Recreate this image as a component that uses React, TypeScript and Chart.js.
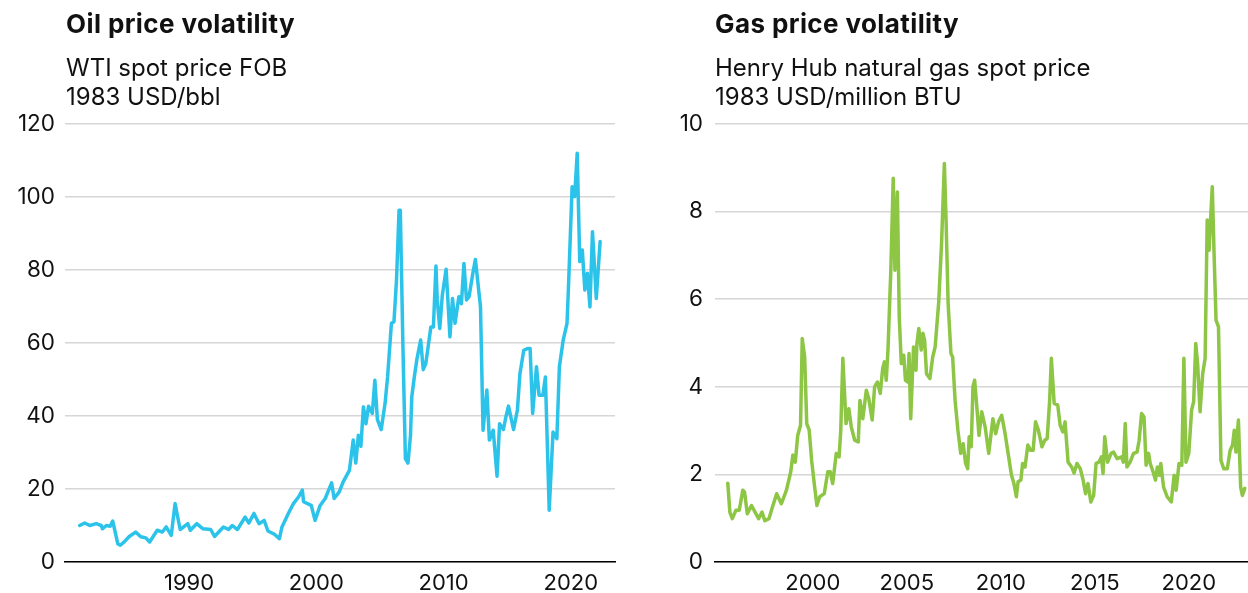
import React, { useEffect, useRef } from "react";
import { Chart, registerables } from "chart.js";

Chart.register(...registerables);

// ---- Oil: WTI spot price FOB, 1983 USD/bbl ----
const oilYears = [
  1981.4, 1981.8, 1982.2, 1982.7, 1983.1, 1983.2, 1983.5, 1983.8, 1984.0, 1984.4,
  1984.6, 1984.9, 1985.3, 1985.8, 1986.2, 1986.6, 1986.9, 1987.5, 1987.9, 1988.2,
  1988.6, 1988.9, 1989.3, 1989.9, 1990.1, 1990.6, 1991.1, 1991.7, 1992.0, 1992.7,
  1993.1, 1993.4, 1993.8, 1994.4, 1994.7, 1995.1, 1995.5, 1995.9, 1996.2, 1996.7,
  1997.1, 1997.3, 1997.8, 1998.2, 1998.6, 1998.9, 1999.0, 1999.6, 1999.9, 2000.3,
  2000.7, 2001.2, 2001.4, 2001.8, 2002.1, 2002.6, 2002.9, 2003.1, 2003.3, 2003.5,
  2003.7, 2003.9, 2004.1, 2004.4, 2004.6, 2004.8, 2005.1, 2005.4, 2005.6, 2005.9,
  2006.1, 2006.3, 2006.5, 2006.6, 2006.8, 2007.0, 2007.2, 2007.4, 2007.5, 2007.7,
  2007.9, 2008.2, 2008.4, 2008.6, 2009.0, 2009.2, 2009.4, 2009.5, 2009.7, 2009.9,
  2010.2, 2010.5, 2010.7, 2010.9, 2011.2, 2011.4, 2011.6, 2011.8, 2012.0, 2012.3,
  2012.5, 2012.9, 2013.1, 2013.4, 2013.6, 2013.9, 2014.2, 2014.4, 2014.7, 2014.9,
  2015.1, 2015.5, 2015.8, 2016.0, 2016.3, 2016.6, 2016.8, 2017.0, 2017.3, 2017.5,
  2017.8, 2018.0, 2018.3, 2018.6, 2018.9, 2019.1, 2019.4, 2019.7, 2019.8, 2020.1,
  2020.3, 2020.5, 2020.7, 2020.9, 2021.1, 2021.3, 2021.5, 2021.7, 2022.0, 2022.3,
];
const oilValues = [
  10.0, 10.7, 10.0, 10.5, 10.0, 9.1, 10.0, 9.8, 11.2, 5.0,
  4.6, 5.5, 7.0, 8.2, 6.9, 6.6, 5.5, 8.7, 8.2, 9.6,
  7.3, 16.0, 8.9, 10.5, 8.7, 10.5, 9.1, 8.9, 7.0, 9.6,
  8.9, 10.0, 8.9, 12.3, 10.7, 13.3, 10.5, 11.4, 8.5, 7.6,
  6.4, 9.6, 13.3, 16.0, 17.8, 19.7, 16.5, 15.5, 11.4, 15.5,
  17.4, 21.7, 17.4, 19.2, 21.9, 25.1, 33.4, 27.1, 34.7, 31.7,
  42.5, 37.9, 42.7, 40.7, 49.8, 39.0, 36.3, 43.4, 50.7, 65.4,
  65.8, 77.2, 96.4, 96.4, 59.9, 28.3, 27.1, 34.7, 45.2, 50.7,
  55.5, 60.8, 52.7, 54.3, 64.4, 64.4, 81.1, 71.8, 64.0, 73.1,
  80.2, 61.7, 72.2, 65.4, 72.7, 70.8, 81.8, 71.8, 72.7, 79.1,
  82.9, 69.9, 36.1, 47.1, 33.4, 36.1, 23.5, 37.9, 36.3, 39.8,
  42.7, 36.3, 41.6, 51.6, 58.0, 58.5, 58.5, 40.7, 53.5, 45.7,
  45.7, 50.7, 14.2, 35.6, 33.8, 53.5, 60.8, 65.4, 74.0, 102.8,
  100.1, 112.0, 82.3, 85.5, 74.5, 79.1, 69.9, 90.5, 72.2, 87.8,
];
const oilXTicks = [1990, 2000, 2010, 2020];
const oilYTicks = [0, 20, 40, 60, 80, 100, 120];

// ---- Gas: Henry Hub natural gas spot price, 1983 USD/million BTU ----
const gasYears = [
  1995.48, 1995.59, 1995.72, 1995.91, 1996.09, 1996.28, 1996.37, 1996.52, 1996.74, 1996.93,
  1997.12, 1997.30, 1997.45, 1997.67, 1997.86, 1998.08, 1998.33, 1998.60, 1998.83, 1998.94,
  1999.07, 1999.20, 1999.35, 1999.44, 1999.57, 1999.68, 1999.81, 1999.94, 2000.09, 2000.22,
  2000.37, 2000.61, 2000.80, 2000.93, 2001.06, 2001.25, 2001.40, 2001.49, 2001.60, 2001.77,
  2001.92, 2002.05, 2002.23, 2002.42, 2002.51, 2002.66, 2002.85, 2002.98, 2003.16, 2003.29,
  2003.44, 2003.59, 2003.72, 2003.81, 2003.91, 2004.00, 2004.15, 2004.28, 2004.37, 2004.50,
  2004.60, 2004.71, 2004.84, 2004.93, 2005.06, 2005.12, 2005.21, 2005.36, 2005.49, 2005.54,
  2005.64, 2005.77, 2005.86, 2005.95, 2006.05, 2006.23, 2006.38, 2006.51, 2006.70, 2006.85,
  2007.00, 2007.09, 2007.20, 2007.35, 2007.44, 2007.57, 2007.72, 2007.87, 2008.00, 2008.13,
  2008.24, 2008.32, 2008.43, 2008.52, 2008.61, 2008.74, 2008.84, 2008.99, 2009.17, 2009.36,
  2009.58, 2009.73, 2009.88, 2010.05, 2010.23, 2010.42, 2010.57, 2010.70, 2010.83, 2010.92,
  2011.07, 2011.16, 2011.29, 2011.44, 2011.59, 2011.72, 2011.85, 2012.00, 2012.19, 2012.34,
  2012.47, 2012.60, 2012.69, 2012.84, 2013.03, 2013.16, 2013.30, 2013.42, 2013.58, 2013.77,
  2013.90, 2014.05, 2014.23, 2014.38, 2014.51, 2014.64, 2014.79, 2014.94, 2015.07, 2015.22,
  2015.35, 2015.44, 2015.53, 2015.68, 2015.87, 2016.00, 2016.19, 2016.43, 2016.52, 2016.62,
  2016.71, 2016.88, 2017.06, 2017.25, 2017.36, 2017.49, 2017.62, 2017.73, 2017.86, 2017.95,
  2018.10, 2018.23, 2018.33, 2018.44, 2018.51, 2018.66, 2018.85, 2019.07, 2019.22, 2019.33,
  2019.48, 2019.63, 2019.74, 2019.85, 2020.00, 2020.15, 2020.26, 2020.37, 2020.47, 2020.60,
  2020.74, 2020.87, 2020.98, 2021.08, 2021.15, 2021.25, 2021.34, 2021.45, 2021.58, 2021.71,
  2021.86, 2022.05, 2022.20, 2022.33, 2022.42, 2022.51, 2022.64, 2022.76, 2022.85, 2022.98,
];
const gasValues = [
  1.80, 1.14, 0.99, 1.18, 1.18, 1.64, 1.60, 1.10, 1.29, 1.14,
  0.99, 1.14, 0.94, 0.99, 1.26, 1.56, 1.33, 1.64, 2.06, 2.44,
  2.28, 2.89, 3.12, 5.10, 4.68, 3.16, 3.01, 2.32, 1.75, 1.29,
  1.49, 1.56, 2.06, 2.06, 1.79, 2.48, 2.40, 3.01, 4.65, 3.16,
  3.50, 3.08, 2.78, 2.74, 3.69, 3.27, 3.92, 3.73, 3.24, 4.00,
  4.11, 3.85, 4.42, 4.57, 4.15, 4.84, 6.63, 8.76, 6.66, 8.45,
  5.60, 4.53, 4.72, 4.15, 4.11, 4.76, 3.27, 4.91, 4.38, 4.99,
  5.33, 4.84, 5.22, 5.06, 4.30, 4.19, 4.68, 4.91, 5.94, 7.27,
  9.10, 7.81, 5.90, 4.76, 4.68, 3.69, 3.01, 2.48, 2.70, 2.25,
  2.13, 2.86, 2.63, 4.00, 4.15, 3.47, 2.89, 3.43, 3.08, 2.48,
  3.27, 2.93, 3.20, 3.35, 2.93, 2.40, 1.98, 1.79, 1.49, 1.83,
  1.87, 2.25, 2.17, 2.67, 2.55, 2.55, 3.20, 3.01, 2.63, 2.78,
  2.82, 3.69, 4.65, 3.62, 3.58, 3.12, 2.97, 3.20, 2.28, 2.17,
  2.03, 2.25, 2.13, 1.87, 1.56, 1.79, 1.37, 1.52, 2.25, 2.28,
  2.40, 2.02, 2.86, 2.28, 2.48, 2.51, 2.36, 2.40, 2.28, 3.16,
  2.17, 2.28, 2.48, 2.51, 2.78, 3.39, 3.31, 2.21, 2.48, 2.25,
  2.06, 1.87, 2.17, 1.98, 2.25, 1.71, 1.49, 1.37, 1.98, 1.64,
  2.25, 2.21, 4.65, 2.28, 2.48, 3.47, 3.66, 4.99, 4.53, 3.43,
  4.30, 4.65, 7.81, 7.12, 7.73, 8.57, 7.12, 5.52, 5.37, 2.32,
  2.13, 2.13, 2.55, 2.67, 3.01, 2.51, 3.24, 1.71, 1.52, 1.68,
];
const gasXTicks = [2000, 2005, 2010, 2015, 2020];
const gasYTicks = [0, 2, 4, 6, 8, 10];

const FONT = "Inter, 'Noto Sans', sans-serif";

type PanelProps = {
  left: number;
  years: number[];
  values: number[];
  color: string;
  xMin: number;
  xMax: number;
  xTicks: number[];
  yTicks: number[];
  yAxisWidth: number;
  yLabelPad: number;
  padRight: number;
  title: string;
  sub1: string;
  sub2: string;
  titleLeft: number;
};

function Panel(p: PanelProps) {
  const ref = useRef<HTMLCanvasElement | null>(null);
  useEffect(() => {
    if (!ref.current) return;
    const data = p.years.map((x, i) => ({ x, y: p.values[i] }));
    const chart = new Chart(ref.current, {
      type: "line",
      data: {
        datasets: [
          {
            data,
            borderColor: p.color,
            borderWidth: 3.5,
            pointRadius: 0,
            tension: 0,
            borderJoinStyle: "round",
            borderCapStyle: "round",
            fill: false,
          },
        ],
      },
      options: {
        animation: false,
        responsive: false,
        maintainAspectRatio: false,
        layout: { padding: { top: 124, bottom: 0, left: 0, right: p.padRight } },
        plugins: { legend: { display: false }, tooltip: { enabled: false } },
        scales: {
          x: {
            type: "linear",
            min: p.xMin,
            max: p.xMax,
            afterBuildTicks: (s: any) => {
              s.ticks = p.xTicks.map((v) => ({ value: v }));
            },
            afterFit: (s: any) => {
              s.height = 31;
            },
            grid: { display: false, drawTicks: false },
            border: { display: true, color: "#000000", width: 1.5 },
            ticks: {
              autoSkip: false,
              maxRotation: 0,
              padding: 8,
              color: "#111111",
              font: { family: FONT, size: 22 },
              callback: (v: any) => String(v),
            },
          },
          y: {
            type: "linear",
            min: p.yTicks[0],
            max: p.yTicks[p.yTicks.length - 1],
            afterBuildTicks: (s: any) => {
              s.ticks = p.yTicks.map((v) => ({ value: v }));
            },
            afterFit: (s: any) => {
              s.width = p.yAxisWidth;
            },
            grid: { display: true, color: "#d6d6d6", lineWidth: 1.5, drawTicks: false },
            border: { display: false },
            ticks: {
              padding: p.yLabelPad,
              color: "#111111",
              font: { family: FONT, size: 22.5 },
              callback: (v: any) => String(v),
            },
          },
        },
      },
    });
    return () => chart.destroy();
  }, []);

  return (
    <div style={{ position: "absolute", left: p.left, top: 0, width: 624, height: 593 }}>
      <canvas ref={ref} width={624} height={593} style={{ position: "absolute", left: 0, top: 0, width: 624, height: 593 }} />
      <div
        style={{
          position: "absolute",
          left: p.titleLeft,
          top: 8,
          fontFamily: FONT,
          fontWeight: 700,
          fontSize: 26,
          letterSpacing: "0.4px",
          lineHeight: "32px",
          color: "#111111",
          whiteSpace: "nowrap",
        }}
      >
        {p.title}
      </div>
      <div
        style={{
          position: "absolute",
          left: p.titleLeft,
          top: 53,
          fontFamily: FONT,
          fontSize: 24,
          lineHeight: "29px",
          color: "#111111",
          whiteSpace: "nowrap",
        }}
      >
        <div>{p.sub1}</div>
        <div>{p.sub2}</div>
      </div>
    </div>
  );
}

export default function App() {
  return (
    <div style={{ position: "absolute", left: 0, top: 0, width: 1248, height: 593, background: "#ffffff", overflow: "hidden" }}>
      <Panel
        left={0}
        years={oilYears}
        values={oilValues}
        color="#2cc3ea"
        xMin={1980.25}
        xMax={2023.47}
        xTicks={oilXTicks}
        yTicks={oilYTicks}
        yAxisWidth={65}
        yLabelPad={10}
        padRight={9}
        title="Oil price volatility"
        sub1="WTI spot price FOB"
        sub2="1983 USD/bbl"
        titleLeft={66}
      />
      <Panel
        left={624}
        years={gasYears}
        values={gasValues}
        color="#8dc544"
        xMin={1994.8}
        xMax={2023.15}
        xTicks={gasXTicks}
        yTicks={gasYTicks}
        yAxisWidth={91}
        yLabelPad={12}
        padRight={0}
        title="Gas price volatility"
        sub1="Henry Hub natural gas spot price"
        sub2="1983 USD/million BTU"
        titleLeft={91}
      />
    </div>
  );
}
